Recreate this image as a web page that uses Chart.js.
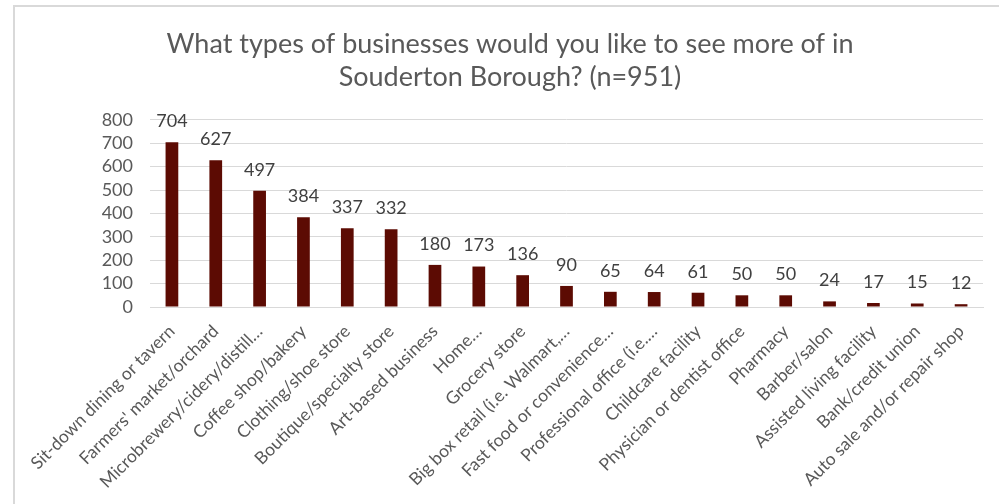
<!DOCTYPE html>
<html>
<head>
<meta charset="utf-8">
<title>Souderton Borough business survey</title>
<script src="https://cdn.jsdelivr.net/npm/chart.js@4.4.1/dist/chart.umd.min.js"></script>
<style>
    html, body { margin: 0; padding: 0; background: #fff; }
    #wrap { position: relative; width: 999px; height: 504px; overflow: hidden; }
    #frame {
        position: absolute; left: 13px; top: 5px; width: 1000px; height: 520px;
        border-left: 2px solid #d9d9d9; border-top: 2px solid #d9d9d9;
        box-sizing: border-box;
    }
    #chart { position: absolute; left: 0; top: 0; }
</style>
</head>
<body>
<div id="wrap">
    <div id="frame"></div>
    <canvas id="chart" width="999" height="504"></canvas>
</div>
<script>
const businessTypes = [
    "Sit-down dining or tavern",
    "Farmers' market/orchard",
    "Microbrewery/cidery/distill…",
    "Coffee shop/bakery",
    "Clothing/shoe store",
    "Boutique/specialty store",
    "Art-based business",
    "Home…",
    "Grocery store",
    "Big box retail (i.e. Walmart,…",
    "Fast food or convenience…",
    "Professional office (i.e.…",
    "Childcare facility",
    "Physician or dentist office",
    "Pharmacy",
    "Barber/salon",
    "Assisted living facility",
    "Bank/credit union",
    "Auto sale and/or repair shop"
];
const responses = [704, 627, 497, 384, 337, 332, 180, 173, 136, 90, 65, 64, 61, 50, 50, 24, 17, 15, 12];
const yTicks = [0, 100, 200, 300, 400, 500, 600, 700, 800];

const FONT = "Lato, 'Open Sans', sans-serif";

/* value labels above each bar */
const barValues = {
    id: "barValues",
    afterDatasetsDraw(chart) {
        const ctx = chart.ctx;
        const meta = chart.getDatasetMeta(0);
        ctx.save();
        ctx.font = "18px " + FONT;
        ctx.fillStyle = "#404040";
        ctx.textAlign = "center";
        ctx.textBaseline = "middle";
        meta.data.forEach((bar, i) => {
            ctx.fillText(String(responses[i]), bar.x, bar.y - 21);
        });
        ctx.restore();
    }
};

new Chart(document.getElementById("chart"), {
    type: "bar",
    data: {
        labels: businessTypes,
        datasets: [{
            data: responses,
            backgroundColor: "#5c0b03",
            borderWidth: 0,
            categoryPercentage: 1,
            barPercentage: 0.29
        }]
    },
    options: {
        responsive: false,
        animation: false,
        layout: { padding: { left: 37, right: 16, top: 0, bottom: 0 } },
        plugins: {
            legend: { display: false },
            tooltip: { enabled: false },
            title: {
                display: true,
                text: ["What types of businesses would you like to see more of in",
                       "Souderton Borough? (n=951)"],
                color: "#595959",
                font: { family: FONT, size: 27, weight: "normal", lineHeight: 1.22 },
                padding: { top: 28, bottom: 26 }
            }
        },
        scales: {
            x: {
                grid: { display: false, drawTicks: false },
                border: { display: true, color: "#d9d9d9", width: 1 },
                ticks: {
                    color: "#595959",
                    font: { family: FONT, size: 17.5 },
                    minRotation: 45,
                    maxRotation: 45,
                    autoSkip: false,
                    padding: 14
                },
                afterFit(scale) { scale.height = 197; }
            },
            y: {
                min: 0,
                max: 800,
                afterBuildTicks(scale) {
                    scale.ticks = yTicks.map(v => ({ value: v }));
                },
                grid: { color: "#d9d9d9", lineWidth: 1, drawTicks: false },
                border: { display: false },
                ticks: {
                    color: "#595959",
                    font: { family: FONT, size: 18 },
                    padding: 17,
                    autoSkip: false
                },
                afterFit(scale) { scale.width = 113; }
            }
        }
    },
    plugins: [barValues]
});
</script>
</body>
</html>
